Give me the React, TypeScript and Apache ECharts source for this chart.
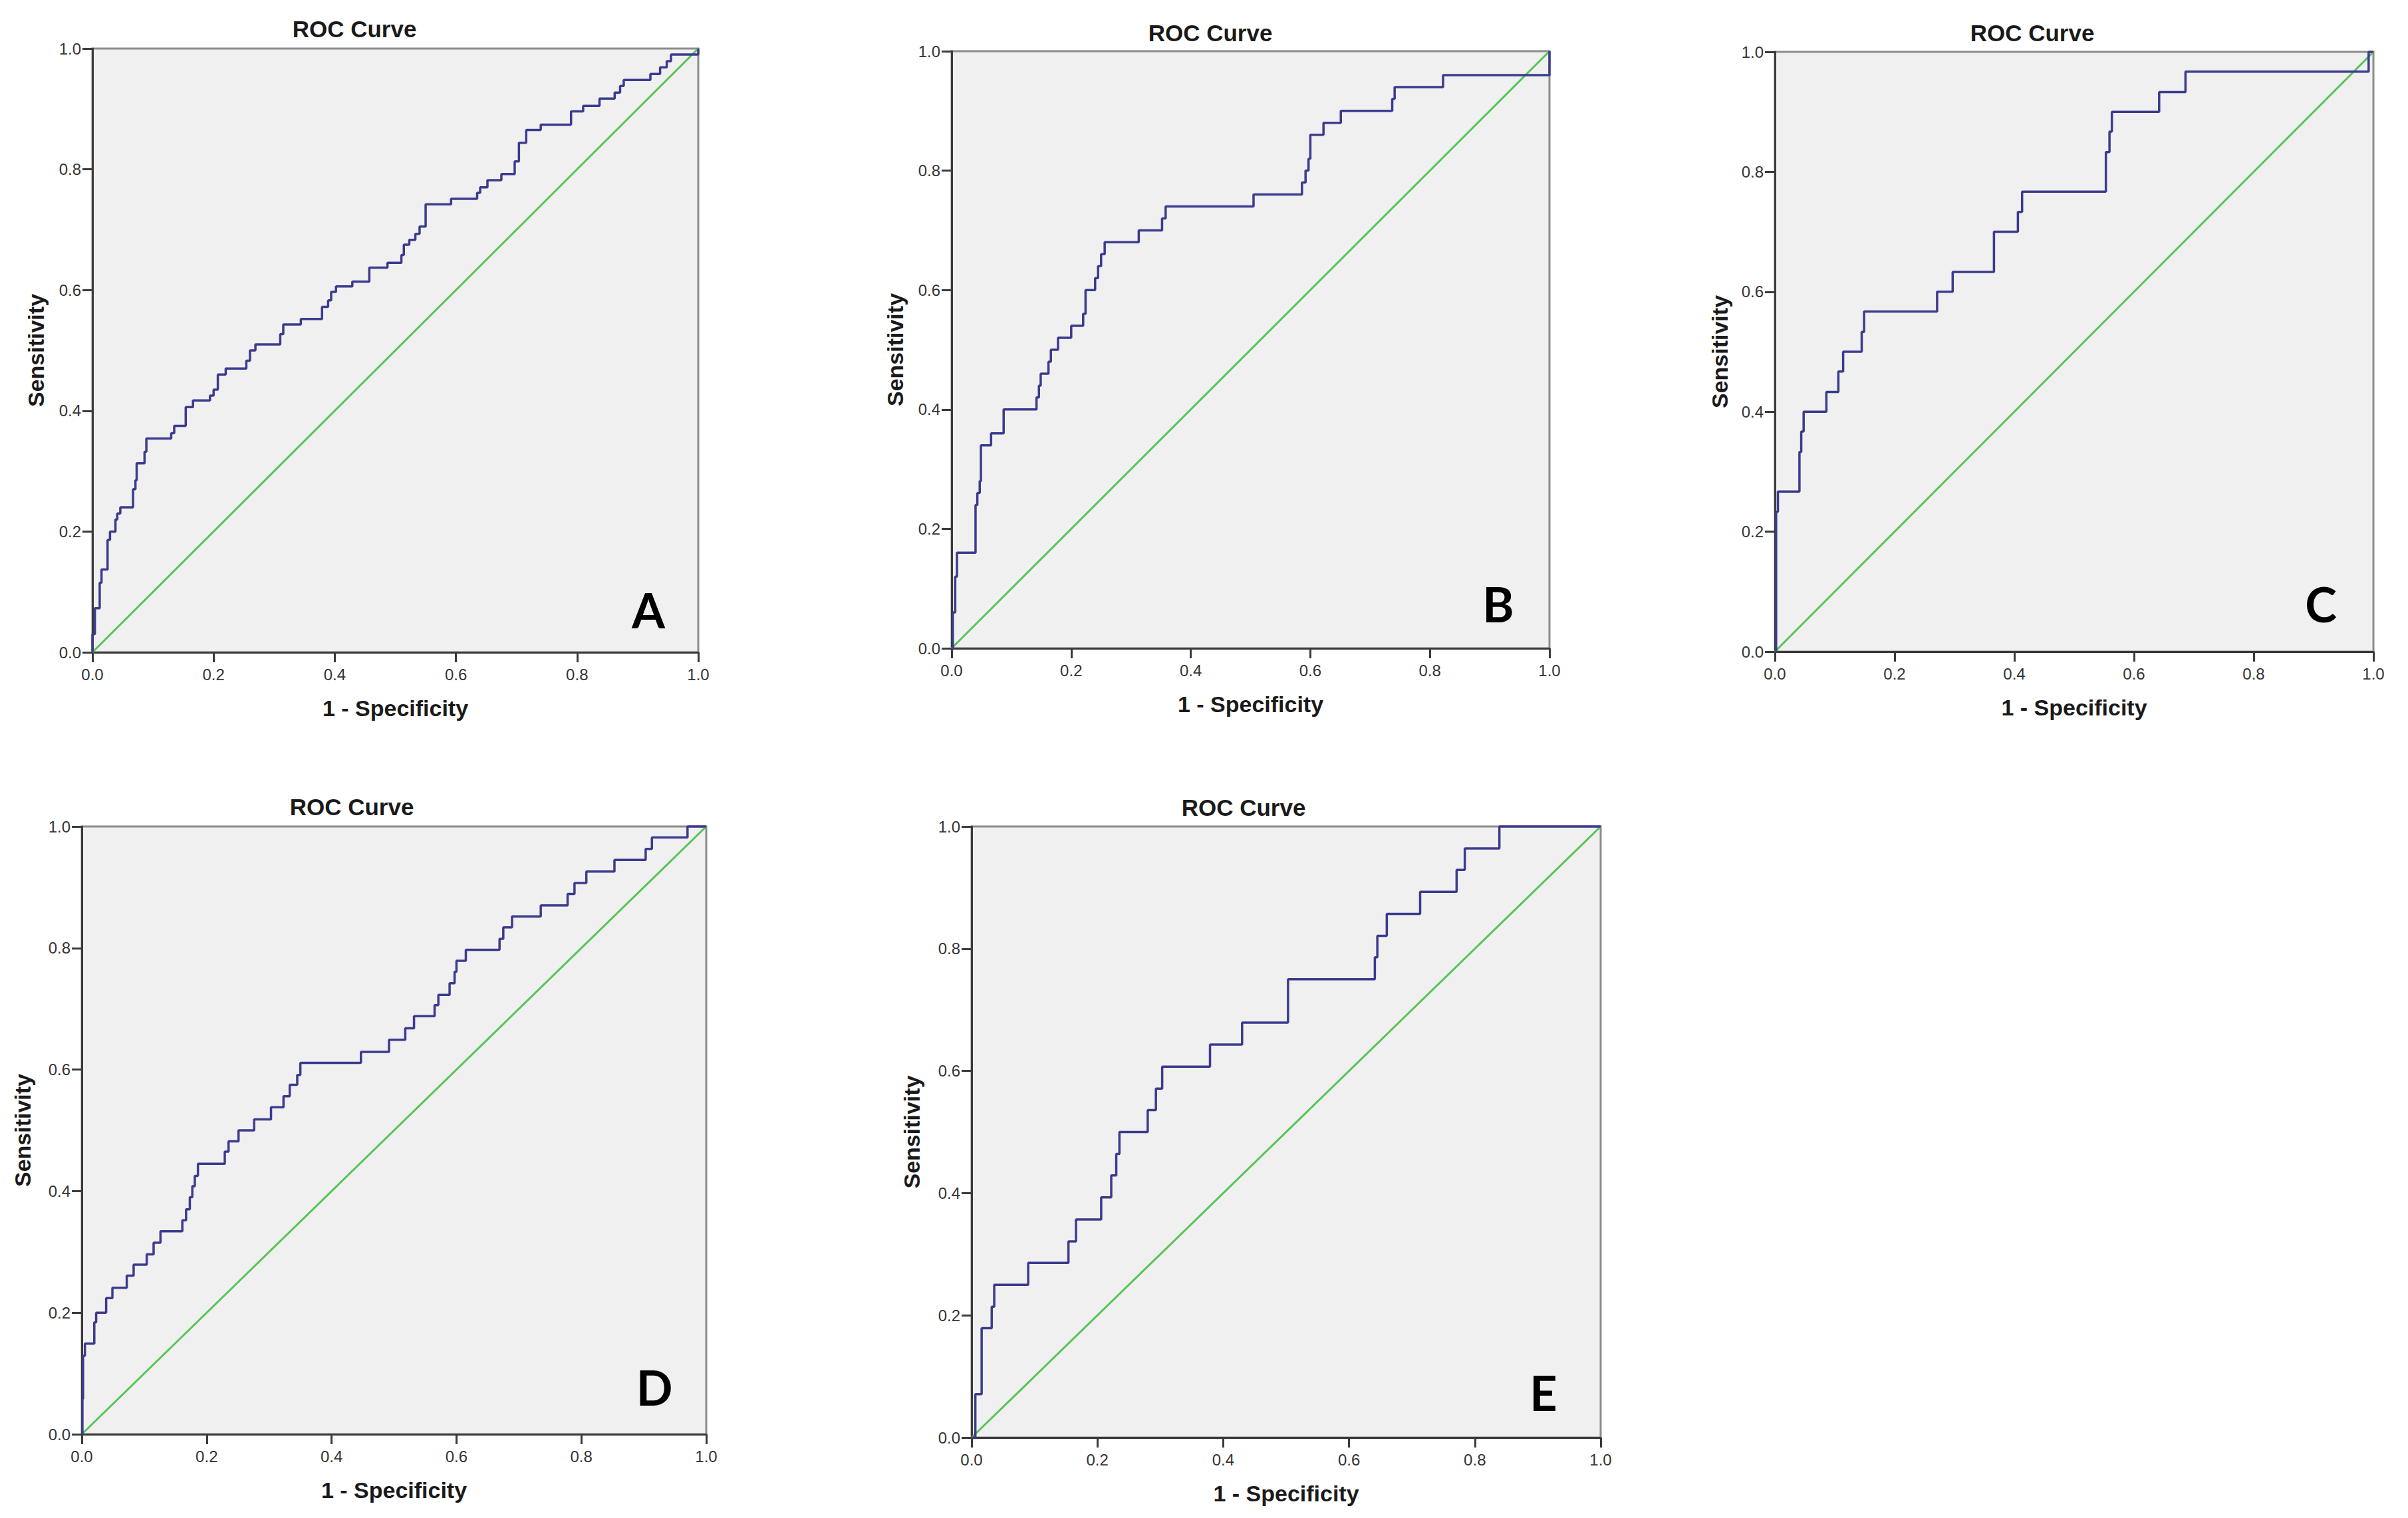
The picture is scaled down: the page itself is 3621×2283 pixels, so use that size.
import React, { useEffect, useRef } from "react";
import * as echarts from "echarts";

// ---------- data ----------
const chartTitle = "ROC Curve";
const xAxisTitle = "1 - Specificity";
const yAxisTitle = "Sensitivity";
const panelLetters = ["A", "B", "C", "D", "E"];
const axisMin = 0;
const axisMax = 1;
const axisInterval = 0.2;

// reference (chance) line
const referenceLine = [
  [0, 0],
  [1, 1],
];

// ROC staircases: each point = [1 - specificity where the curve rises, new sensitivity]
const rocA = [
  [0, 0], [0.0, 0.03], [0.004, 0.073], [0.012, 0.115], [0.015, 0.137], [0.025, 0.186],
  [0.029, 0.2], [0.038, 0.22], [0.041, 0.23], [0.046, 0.24], [0.067, 0.27], [0.071, 0.285],
  [0.073, 0.313], [0.086, 0.332], [0.089, 0.354], [0.13, 0.363], [0.135, 0.375], [0.154, 0.406],
  [0.166, 0.417], [0.194, 0.425], [0.2, 0.435], [0.207, 0.46], [0.22, 0.47], [0.254, 0.483],
  [0.26, 0.5], [0.269, 0.51], [0.31, 0.527], [0.315, 0.543], [0.344, 0.552], [0.379, 0.572],
  [0.389, 0.583], [0.394, 0.597], [0.402, 0.606], [0.429, 0.614], [0.457, 0.637], [0.487, 0.645],
  [0.51, 0.658], [0.514, 0.675], [0.523, 0.683], [0.533, 0.693], [0.54, 0.705], [0.55, 0.742],
  [0.592, 0.751], [0.635, 0.761], [0.64, 0.77], [0.652, 0.782], [0.675, 0.792], [0.697, 0.813],
  [0.704, 0.844], [0.716, 0.865], [0.74, 0.874], [0.79, 0.896], [0.81, 0.905], [0.837, 0.917],
  [0.862, 0.927], [0.871, 0.938], [0.877, 0.948], [0.921, 0.958], [0.937, 0.969], [0.948, 0.979],
  [0.955, 0.99], [1, 1],
];

const rocB = [
  [0, 0], [0.002, 0.06], [0.006, 0.12], [0.009, 0.16], [0.04, 0.24], [0.043, 0.26],
  [0.047, 0.28], [0.049, 0.34], [0.066, 0.36], [0.087, 0.4], [0.142, 0.42], [0.146, 0.44],
  [0.149, 0.46], [0.162, 0.48], [0.166, 0.5], [0.178, 0.52], [0.2, 0.54], [0.22, 0.56],
  [0.224, 0.6], [0.24, 0.62], [0.245, 0.64], [0.25, 0.66], [0.256, 0.68], [0.313, 0.7],
  [0.352, 0.72], [0.358, 0.74], [0.505, 0.76], [0.586, 0.78], [0.592, 0.8], [0.597, 0.82],
  [0.6, 0.86], [0.622, 0.88], [0.651, 0.9], [0.737, 0.92], [0.741, 0.94], [0.822, 0.96],
  [1, 1],
];

const rocC = [
  [0, 0], [0.002, 0.067], [0.002, 0.133], [0.002, 0.233], [0.005, 0.267], [0.041, 0.333],
  [0.044, 0.367], [0.048, 0.4], [0.086, 0.433], [0.106, 0.467], [0.114, 0.5], [0.145, 0.533],
  [0.149, 0.567], [0.271, 0.6], [0.297, 0.633], [0.366, 0.7], [0.406, 0.733], [0.413, 0.767],
  [0.553, 0.833], [0.559, 0.867], [0.563, 0.9], [0.642, 0.933], [0.686, 0.967], [0.992, 1.0],
  [1, 1],
];

const rocD = [
  [0, 0], [0.001, 0.058], [0.002, 0.129], [0.005, 0.149], [0.02, 0.184], [0.023, 0.2],
  [0.039, 0.224], [0.049, 0.241], [0.072, 0.261], [0.083, 0.279], [0.104, 0.296], [0.115, 0.315],
  [0.126, 0.334], [0.161, 0.352], [0.167, 0.37], [0.173, 0.39], [0.177, 0.408], [0.181, 0.425],
  [0.186, 0.445], [0.229, 0.465], [0.235, 0.482], [0.251, 0.5], [0.276, 0.518], [0.303, 0.538],
  [0.323, 0.556], [0.333, 0.575], [0.345, 0.591], [0.35, 0.611], [0.447, 0.629], [0.492, 0.649],
  [0.518, 0.668], [0.532, 0.688], [0.565, 0.706], [0.571, 0.723], [0.589, 0.742], [0.597, 0.761],
  [0.6, 0.779], [0.615, 0.797], [0.669, 0.815], [0.675, 0.834], [0.689, 0.852], [0.735, 0.87],
  [0.778, 0.889], [0.789, 0.907], [0.808, 0.926], [0.853, 0.945], [0.903, 0.963], [0.913, 0.982],
  [0.97, 1.0], [1, 1],
];

const rocE = [
  [0, 0], [0.006, 0.071], [0.016, 0.179], [0.032, 0.214], [0.036, 0.25], [0.09, 0.286],
  [0.154, 0.321], [0.166, 0.357], [0.206, 0.393], [0.222, 0.429], [0.23, 0.464], [0.235, 0.5],
  [0.28, 0.536], [0.293, 0.571], [0.303, 0.607], [0.379, 0.643], [0.43, 0.679], [0.503, 0.75],
  [0.641, 0.786], [0.645, 0.821], [0.66, 0.857], [0.713, 0.893], [0.771, 0.929], [0.784, 0.964],
  [0.839, 1.0], [1, 1],
];

const rocCurves = [rocA, rocB, rocC, rocD, rocE];

// ---------- layout (pixels) ----------
const layout = [
  { left: 139, top: 73, width: 911, height: 908, yGap: 68, title: [533, 43], letter: [975, 917] },
  { left: 1431, top: 77, width: 899, height: 898, yGap: 68, title: [1820, 49], letter: [2253, 908] },
  { left: 2669, top: 78, width: 900, height: 902, yGap: 66, title: [3056, 49], letter: [3490, 908] },
  { left: 123, top: 1243, width: 939, height: 914, yGap: 72, title: [529, 1213], letter: [984, 2086] },
  { left: 1461, top: 1243, width: 946, height: 919, yGap: 73, title: [1870, 1214], letter: [2321, 2094] },
];

const FONT = '"Liberation Sans", Arial, Helvetica, sans-serif';
const AXIS_COLOR = "#3a3a3a";
const BORDER_COLOR = "#8c8c8c";
const PLOT_BG = "#F0F0F0";
const ROC_COLOR = "#3B3B8F";
const REF_COLOR = "#58C458";

export default function App() {
  const ref = useRef<HTMLDivElement>(null);

  useEffect(() => {
    document.body.style.margin = "0";
    if (!ref.current) return;
    const chart = echarts.init(ref.current, undefined, { renderer: "svg" });

    const fmt = (v: number) => v.toFixed(1);

    const grid = layout.map((g) => ({
      left: g.left,
      top: g.top,
      width: g.width,
      height: g.height,
      show: true,
      backgroundColor: PLOT_BG,
      borderColor: BORDER_COLOR,
      borderWidth: 3,
      containLabel: false,
      outerBoundsMode: "none",
    }));

    const nameStyle = {
      fontSize: 34,
      fontWeight: "bold",
      color: "#1a1a1a",
      fontFamily: FONT,
    };

    const xAxis = layout.map((g, i) => ({
      type: "value",
      gridIndex: i,
      min: axisMin,
      max: axisMax,
      interval: axisInterval,
      name: xAxisTitle,
      nameLocation: "middle",
      nameGap: 67,
      nameTextStyle: nameStyle,
      axisLine: { show: true, onZero: false, lineStyle: { color: AXIS_COLOR, width: 3 } },
      axisTick: { show: true, length: 15, lineStyle: { color: AXIS_COLOR, width: 3 } },
      axisLabel: {
        formatter: fmt,
        fontSize: 24,
        color: "#333",
        fontFamily: FONT,
        margin: 21,
        showMinLabel: true,
        showMaxLabel: true,
      },
      splitLine: { show: false },
    }));

    const yAxis = layout.map((g, i) => ({
      type: "value",
      gridIndex: i,
      min: axisMin,
      max: axisMax,
      interval: axisInterval,
      name: yAxisTitle,
      nameLocation: "middle",
      nameGap: g.yGap,
      nameTextStyle: nameStyle,
      axisLine: { show: true, onZero: false, lineStyle: { color: AXIS_COLOR, width: 3 } },
      axisTick: { show: true, length: 15, lineStyle: { color: AXIS_COLOR, width: 3 } },
      axisLabel: {
        formatter: fmt,
        fontSize: 24,
        color: "#333",
        fontFamily: FONT,
        margin: 17,
        padding: [10, 0, 0, 0],
        showMinLabel: true,
        showMaxLabel: true,
      },
      splitLine: { show: false },
    }));

    const series: any[] = [];
    layout.forEach((g, i) => {
      series.push({
        type: "line",
        xAxisIndex: i,
        yAxisIndex: i,
        data: referenceLine,
        symbol: "none",
        silent: true,
        clip: false,
        z: 2,
        lineStyle: { color: REF_COLOR, width: 3 },
      });
      series.push({
        type: "line",
        xAxisIndex: i,
        yAxisIndex: i,
        data: rocCurves[i],
        step: "end",
        symbol: "none",
        silent: true,
        clip: false,
        z: 3,
        lineStyle: { color: ROC_COLOR, width: 3.5 },
      });
    });

    const graphic: any[] = [];
    layout.forEach((g, i) => {
      graphic.push({
        type: "text",
        x: g.title[0],
        y: g.title[1],
        z: 10,
        style: {
          text: chartTitle,
          fontSize: 35,
          fontWeight: "bold",
          fontFamily: FONT,
          fill: "#1a1a1a",
          align: "center",
          verticalAlign: "middle",
        },
      });
      graphic.push({
        type: "text",
        x: g.letter[0],
        y: g.letter[1],
        z: 10,
        style: {
          text: panelLetters[i],
          fontSize: 72,
          fontWeight: "bold",
          fontFamily: 'Lato, "Open Sans", sans-serif',
          fill: "#000",
          align: "center",
          verticalAlign: "middle",
        },
      });
    });

    chart.setOption({
      animation: false,
      backgroundColor: "#ffffff",
      grid,
      xAxis,
      yAxis,
      series,
      graphic,
    } as any);

    return () => chart.dispose();
  }, []);

  return (
    <div
      ref={ref}
      style={{ position: "fixed", left: 0, top: 0, width: 3621, height: 2283, background: "#fff" }}
    />
  );
}
